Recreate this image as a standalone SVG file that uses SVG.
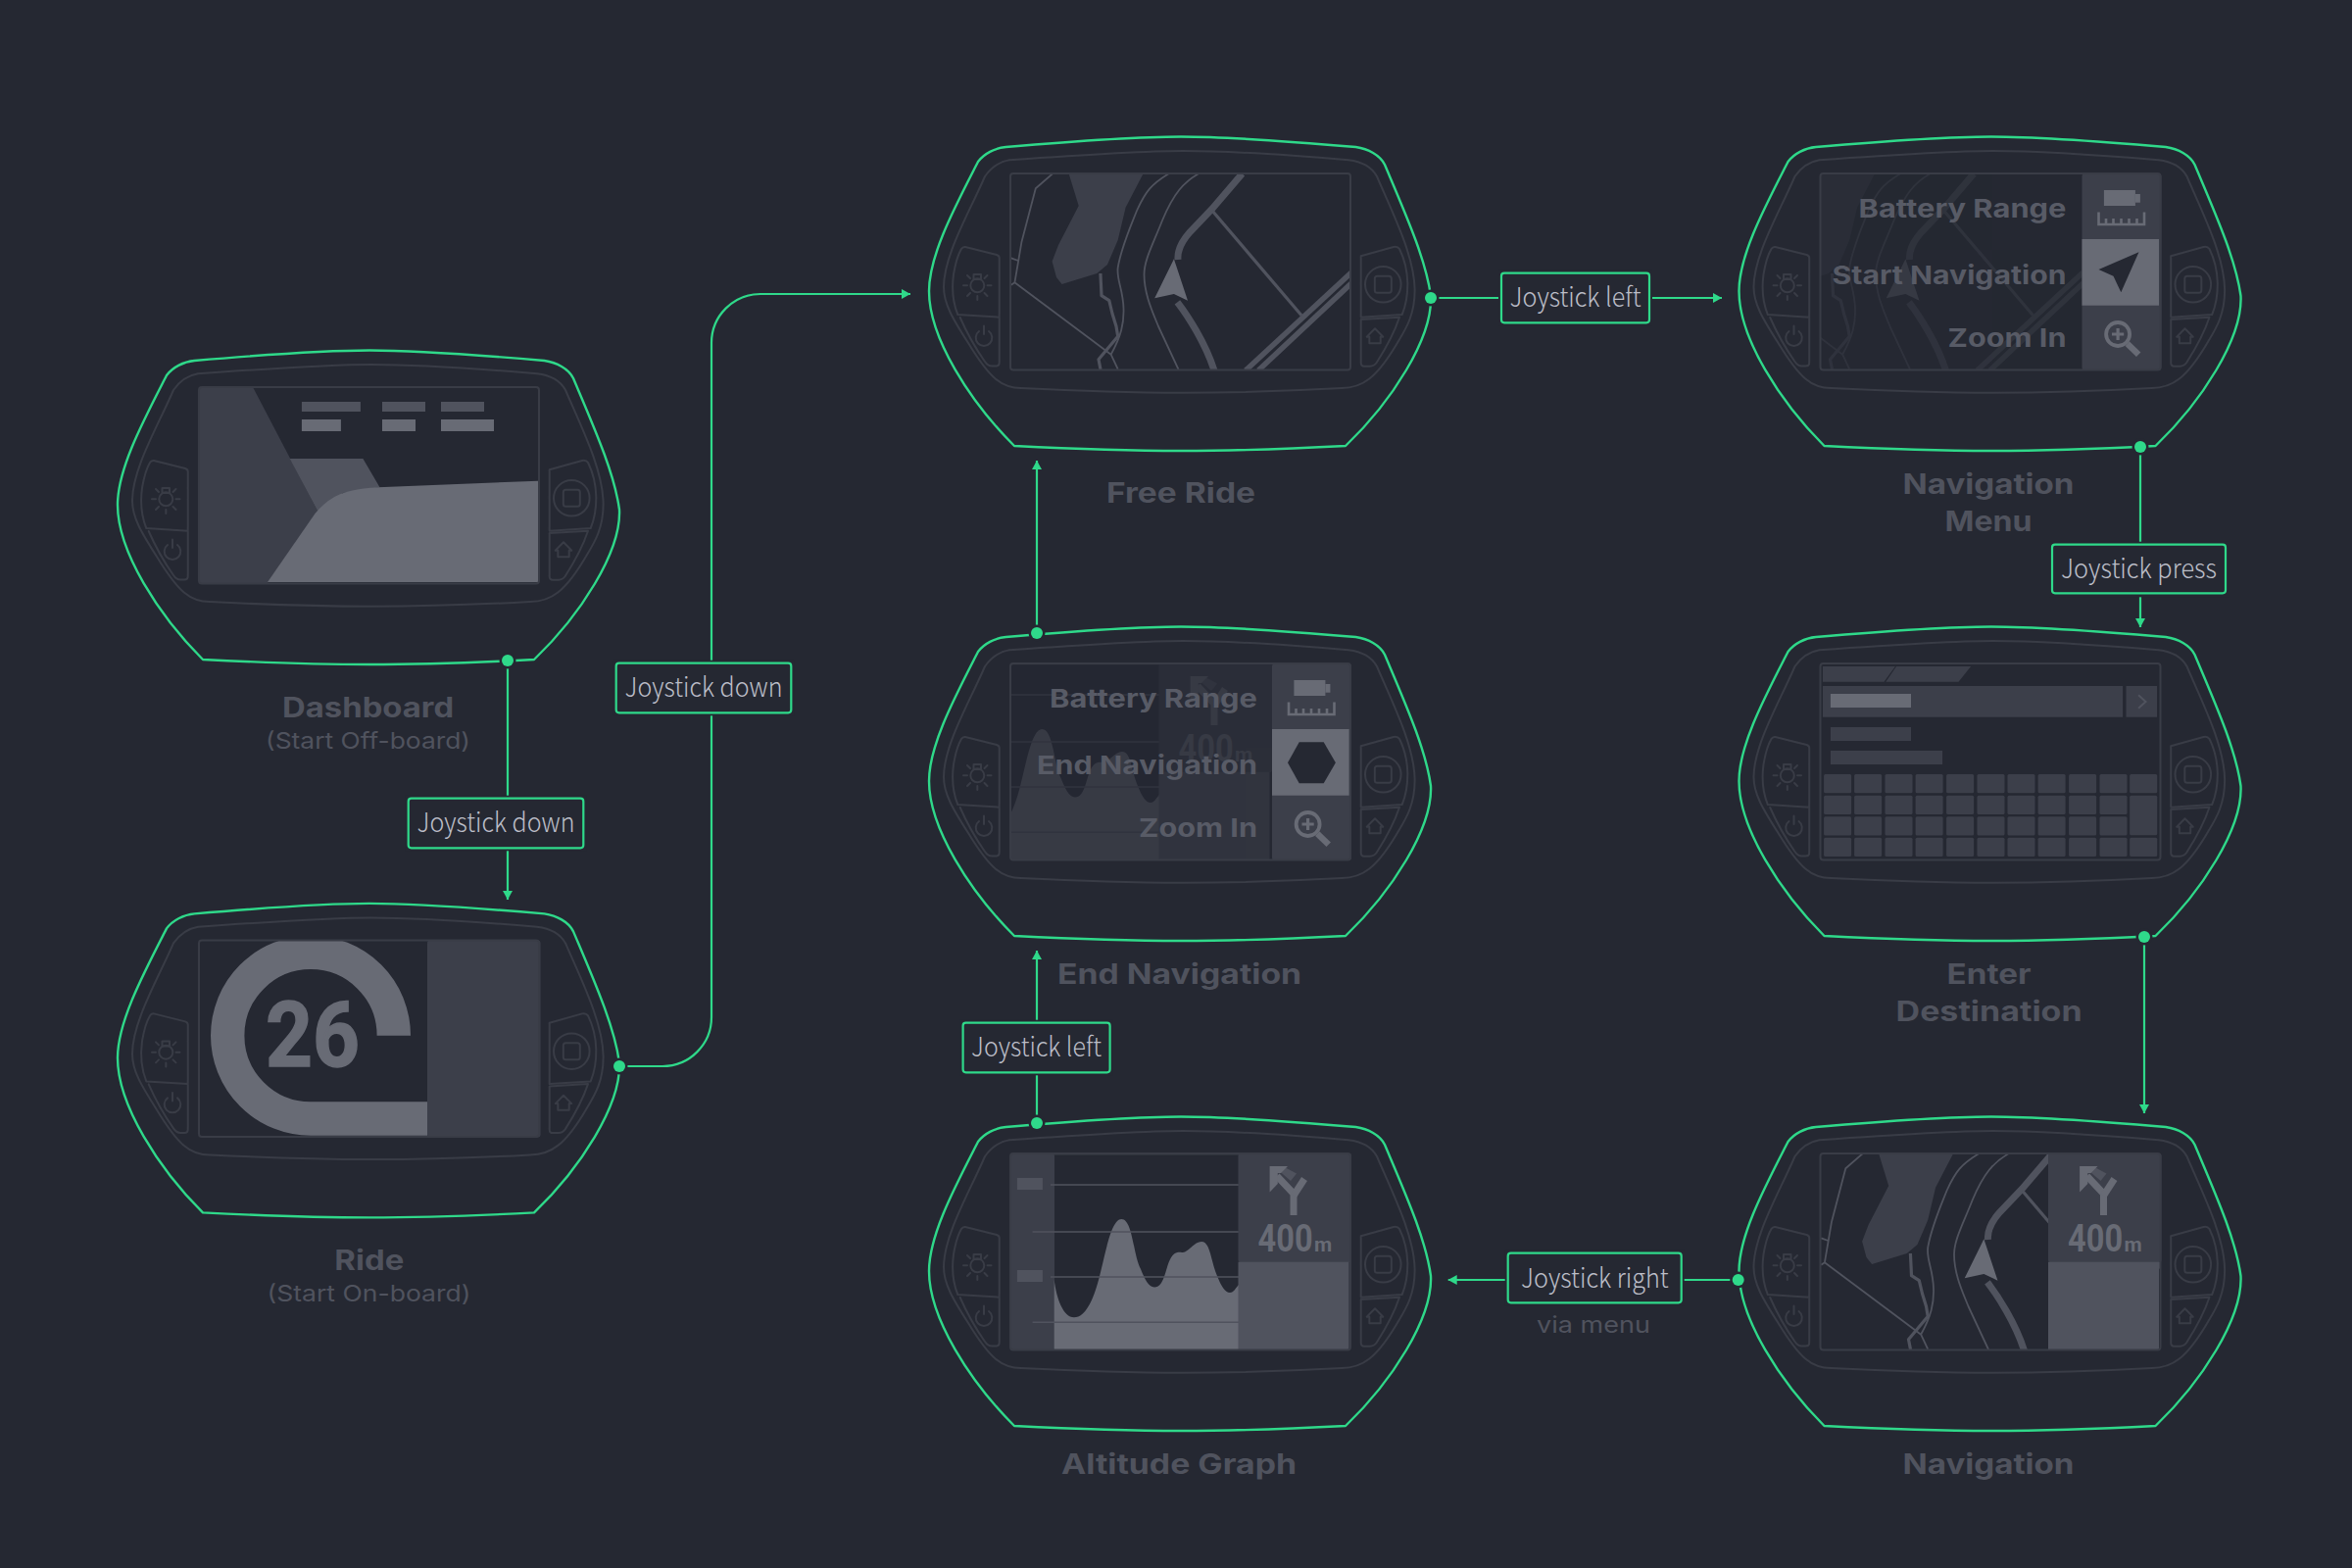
<svg xmlns="http://www.w3.org/2000/svg" xmlns:xlink="http://www.w3.org/1999/xlink" width="2400" height="1600" viewBox="0 0 2400 1600">
<style>
.bg{fill:#252832}
.dk{fill:#3c3f4a}
.md{fill:#50535e}
.lt{fill:#686b75}
.body{fill:none;stroke:#393c46;stroke-width:2;stroke-linejoin:round;stroke-linecap:round}
.edge{fill:none;stroke:#2fd98a;stroke-width:2.4;stroke-linejoin:round}
.thin{fill:none;stroke:#50535e;stroke-width:1.8;stroke-linejoin:round}
.mid{fill:none;stroke:#50535e;stroke-width:3.2;stroke-linejoin:round}
.road{fill:none;stroke:#50535e;stroke-width:7}
.road2{fill:none;stroke:#50535e;stroke-width:5.5}
.grid{fill:none;stroke:#50535e;stroke-width:1.6}
.conn{fill:none;stroke:#2fd98a;stroke-width:2.2}
.dot{fill:#2fd98a;stroke:none}
.halo{fill:#252832;stroke:none}
.box{fill:#252832;stroke:#2fd98a;stroke-width:2.2}
.boxhalo{fill:#252832;stroke:none}
.lbl{font-family:"Noto Sans CJK SC","Noto Sans",sans-serif;font-weight:300;font-size:27px;fill:#bcbec8;text-anchor:middle}
.ttl{font-family:Inter,"Noto Sans",sans-serif;font-weight:700;font-size:28px;fill:#50535e;text-anchor:middle}
.sub{font-family:Inter,"Noto Sans",sans-serif;font-weight:400;font-size:23px;fill:#50535e;text-anchor:middle}
.menu{font-family:Inter,"Noto Sans",sans-serif;font-weight:700;font-size:26px;fill:#585b66;text-anchor:end}
.dist{font-family:Roboto,"Liberation Sans",sans-serif;font-weight:700;font-size:38px;fill:#686b75}
.unit{font-family:Roboto,"Liberation Sans",sans-serif;font-weight:700;font-size:21px;fill:#686b75}
.speed{font-family:Roboto,"Liberation Sans",sans-serif;font-weight:700;font-size:92px;fill:#686b75;stroke:#686b75;stroke-width:1.5}
.icon{fill:none;stroke:#686b75;stroke-width:2.6}
</style>
<defs>
<marker id="arr" markerUnits="userSpaceOnUse" markerWidth="9" markerHeight="10" refX="9" refY="5" orient="auto"><path d="M0,0L9,5L0,10Z" fill="#2fd98a"/></marker>
<clipPath id="scr"><rect x="101.5" y="47.5" width="346.5" height="199.5"/></clipPath>
<g id="device">
<path class="edge" d="M96.5,20C155,15 225,9.5 275,9.5C325,9.5 395,15 453.5,20C466,22 478,28 483,38C505,90 525,135 530,172C532,215 490,280 443,325C385,328 325,330 275,330C225,330 165,328 105,325C60,280 18,215 18,167C18,130 45,80 68,35C74,27 85,21 96.5,20Z"/>
<path class="body" d="M100,33.3C160,29 230,24 277,24C325,24 395,29 446,33.3C460,35 470,41 475,50C490,85 513,130 513.6,165C514,190 505,205 497,218C475,256 460,266 439,266C385,269 325,270.7 277,270.7C230,270.7 170,269 112,266C92,266 80,256 58,220C42,195 33,180 33,163C33,130 60,85 75,50C82,40 90,35 100,33.3Z"/>
<path class="body" d="M47.3,191C42,178 41,165 43,150C45,138 48,129 51,124Q52.5,121.5 55,122L87,130Q89.7,131 89.7,133V193.7ZM49.7,194C58,213 68,229 75,239Q78,243.5 82,243.5H86Q89.7,243.5 89.7,240V194"/>
<path class="body" d="M458.7,131.3L492,122Q496,121 498,124C503,134 506,147 506.3,158.7C506.5,172 504,183 500.7,191L458.7,193.7ZM458.7,196L498,193.7C492,212 483,227 474.7,240Q472,243.7 468,243.7H462Q458.7,243.7 458.7,240Z"/>
<g class="body">
<circle cx="67.3" cy="161.3" r="7"/><rect x="63.5" y="150" width="7.5" height="5"/>
<path d="M53,161.3H57M77.5,161.3H81.5M67.3,172V176M57,151L60,154M77.5,151L74.5,154M57,172L60,169M77.5,172L74.5,169"/>
<path d="M69,208A8.3,8.3 0 1 0 79,208M74,202.5V211"/>
<circle cx="481.3" cy="160.3" r="18.3"/><rect x="472.8" y="151.8" width="17" height="17" rx="2.5"/>
<path d="M464.7,213.7L473,205.3L481.3,213.7H478.7V220.3H467.3V213.7Z"/>
</g>
<rect class="body" x="101" y="47" width="347" height="200.5" rx="3"/>
</g>
<g id="map-art">
<path class="dk" d="M160.7,47.5H236.4L218.6,81.7L210.7,115L200,140L189.3,149L153.6,160L148,153L143.6,136.7L150,120L170.7,80Z"/>
<path class="thin" d="M144,47.3L126.8,62.3L112.5,116.7L105.4,158.3L185.7,218.3L203.6,231.7L210.7,246.7M101.8,133.3L109,136M101.8,160.7L105.4,158.3"/>
<path class="mid" d="M192.9,149L194,171.7L201.8,176.7L205,190L209,203L210.7,213.3L191,236.7L193,247"/>
<path class="thin" d="M262.5,47.3C245,58 239,65 230,85C222,105 214,123 210.7,143C209,155 216,165 216.5,185C217,200 214,213 203.6,231.7"/>
<path class="thin" d="M292.9,47.3C278,56 267.9,66.7 256,95C247,118 237.5,135 237.5,150C237.5,170 246,188 252,203L272.5,247"/>
<path class="road" d="M337.5,47.3L307,83L284,107C277,115 271,124 272,135M271.4,178.3C282,192 300,220 309,248"/>
<path class="mid" d="M307,85L398,191.7"/>
<path class="road2" d="M449,148L341,248M449,159L354,248"/>
<path class="lt" d="M267.9,134.3L282,176.7L267.9,170L248.2,174.3Z"/>
</g>
<g id="map" clip-path="url(#scr)"><use href="#map-art" xlink:href="#map-art"/></g>
<g id="turn">
<path d="M390,110V88L373,70" fill="none" stroke="#686b75" stroke-width="7"/>
<path d="M390,90L401,73" fill="none" stroke="#686b75" stroke-width="7"/>
<path class="md" d="M379,60L393,67.5L387,75L372,62Z"/>
<path class="lt" d="M365.6,60H384L377,67H373.8V78L365.6,86.5Z"/>
</g>
<g id="navpanel">
<rect class="dk" x="333.5" y="47" width="115.5" height="111" rx="2"/>
<rect class="md" x="333.5" y="157.7" width="113" height="89.3"/>
<use href="#turn" xlink:href="#turn"/>
</g>
<g id="graph">
<rect class="dk" x="101" y="47" width="45" height="201" rx="2"/>
<rect class="md" x="107.9" y="72" width="26" height="12"/>
<rect class="md" x="107.9" y="166" width="26" height="12"/>
<path class="lt" d="M145.7,176C148,195 155,214.3 166,214.3C178,214.3 186,195 191,176C197,155 203,114 214.3,114C226,114 226,150 234,165C238,175 242,183.5 248,183.5C258,183.5 259,165 264,155C268,147.5 272,147.5 276,148C282,149 288,137 296,137C305,137 305,155 312,172C316,182 320,189 325,189C329,189 331,184 334,181V247H145.7Z"/>
<path class="grid" d="M142,79H334M123.6,127H334M142,173H334M123.6,219.3H334M146,47.5H334"/>
<use href="#navpanel" xlink:href="#navpanel"/>
</g>
<g id="menupanel">
<rect class="dk" x="368" y="47" width="81" height="201" rx="3"/>
<rect class="lt" x="368" y="114" width="78.6" height="67.7"/>
<rect class="lt" x="390.4" y="64" width="32" height="16"/><rect class="lt" x="422.4" y="68" width="5" height="8.7"/>
<path class="icon" d="M385,86.5V99H431.5V86.5M392.5,93V99M400,93V99M408,93V99M416,93V99M424,93V99"/>
<circle cx="404.6" cy="211" r="12" fill="none" stroke="#686b75" stroke-width="3.8"/>
<path d="M398.5,211H410.7M404.6,205V217" fill="none" stroke="#686b75" stroke-width="3.2"/>
<path d="M414.3,220.7L425.7,231.7" fill="none" stroke="#686b75" stroke-width="6.4"/>
</g>
<g id="keyrow">
<rect x="104.6" width="28" height="19.3" rx="1.5"/><rect x="135.6" width="28" height="19.3" rx="1.5"/><rect x="167" width="28" height="19.3" rx="1.5"/><rect x="198.1" width="28" height="19.3" rx="1.5"/><rect x="229.6" width="28" height="19.3" rx="1.5"/><rect x="261" width="28" height="19.3" rx="1.5"/><rect x="292" width="28" height="19.3" rx="1.5"/><rect x="323.1" width="28" height="19.3" rx="1.5"/><rect x="354.6" width="28" height="19.3" rx="1.5"/><rect x="386" width="28" height="19.3" rx="1.5"/>
</g>
</defs>
<rect width="2400" height="1600" class="bg"/>

<g id="node-dashboard">
<g transform="translate(102,348)">
<path class="dk" d="M101,47H156L222.3,173.7L171,247H101Z"/>
<path class="md" d="M193.7,120H268.4L285.5,149.3L248,155L222.3,173.7Z"/>
<path class="lt" d="M171,246L219.5,176C237,155 255,151 283.7,149.3L447,142.7V246Z"/>
<rect class="md" x="205.9" y="62" width="60" height="10"/><rect class="md" x="288" y="62" width="44" height="10"/><rect class="md" x="348" y="62" width="44" height="10"/>
<rect class="lt" x="205.9" y="80" width="40" height="12"/><rect class="lt" x="288" y="80" width="34" height="12"/><rect class="lt" x="348" y="80" width="54" height="12"/>
<use href="#device" xlink:href="#device"/>
</g>
<text class="ttl" x="375.6" y="731.7" textLength="175" lengthAdjust="spacingAndGlyphs">Dashboard</text>
<text class="sub" x="375.5" y="764" textLength="209" lengthAdjust="spacingAndGlyphs">(Start Off-board)</text>
</g>

<g id="node-ride">
<g transform="translate(102,912.4)">
<rect class="dk" x="334" y="47" width="115.5" height="201" rx="3"/>
<g clip-path="url(#scr)"><path d="M299.8,144.3A84.8,84.8 0 1 0 215,229.1H334" fill="none" stroke="#686b75" stroke-width="34.4"/></g>
<text class="speed" x="217" y="175.5" textLength="96" lengthAdjust="spacingAndGlyphs" text-anchor="middle">26</text>
<use href="#device" xlink:href="#device"/>
</g>
<text class="ttl" x="376.8" y="1295.7" textLength="71" lengthAdjust="spacingAndGlyphs">Ride</text>
<text class="sub" x="376.5" y="1328" textLength="208" lengthAdjust="spacingAndGlyphs">(Start On-board)</text>
</g>

<g id="node-free-ride">
<g transform="translate(930,130)">
<use href="#map" xlink:href="#map"/>
<use href="#device" xlink:href="#device"/>
</g>
<text class="ttl" x="1205" y="513" textLength="152" lengthAdjust="spacingAndGlyphs">Free Ride</text>
</g>

<g id="node-navigation-menu">
<g transform="translate(1756.5,130)">
<g clip-path="url(#scr)"><g opacity="0.25" transform="translate(-80,0)"><use href="#map-art" xlink:href="#map-art"/></g></g>
<use href="#menupanel" xlink:href="#menupanel"/>
<path class="bg" d="M426,127.3L407.8,168.3L400,151.7L385,145Z"/>
<use href="#device" xlink:href="#device"/>
<text class="menu" x="352" y="91.7" textLength="212" lengthAdjust="spacingAndGlyphs">Battery Range</text>
<text class="menu" x="352" y="160" textLength="239" lengthAdjust="spacingAndGlyphs">Start Navigation</text>
<text class="menu" x="352" y="224" textLength="121" lengthAdjust="spacingAndGlyphs">Zoom In</text>
</g>
<text class="ttl" x="2029" y="504" textLength="175" lengthAdjust="spacingAndGlyphs">Navigation</text>
<text class="ttl" x="2029" y="542" textLength="89" lengthAdjust="spacingAndGlyphs">Menu</text>
</g>

<g id="node-end-navigation">
<g transform="translate(930,630)">
<g clip-path="url(#scr)"><g opacity="0.28" transform="translate(-81,0)"><use href="#graph" xlink:href="#graph"/>
<text class="dist" x="353.6" y="146.7" textLength="56" lengthAdjust="spacingAndGlyphs">400</text><text class="unit" x="411" y="146.7">m</text></g></g>
<use href="#menupanel" xlink:href="#menupanel"/>
<path class="bg" d="M384,148.3L395.7,127.3H420.7L432.9,148.3L420.7,169.3H395.7Z"/>
<use href="#device" xlink:href="#device"/>
<text class="menu" x="353" y="91.7" textLength="212" lengthAdjust="spacingAndGlyphs">Battery Range</text>
<text class="menu" x="353" y="160" textLength="225" lengthAdjust="spacingAndGlyphs">End Navigation</text>
<text class="menu" x="353" y="224" textLength="121" lengthAdjust="spacingAndGlyphs">Zoom In</text>
</g>
<text class="ttl" x="1203.6" y="1004" textLength="249" lengthAdjust="spacingAndGlyphs">End Navigation</text>
</g>

<g id="node-enter-destination">
<g transform="translate(1756.5,630)">
<path class="dk" d="M103.5,50H177.4L166,65.7H103.5ZM178.5,50H254.6L242,65.7H167.8Z"/>
<rect class="dk" x="103.5" y="70" width="306.1" height="31.7"/>
<rect class="dk" x="413" y="70" width="31.6" height="31.7"/>
<path d="M425.6,79.3L433,86L425.6,92.7" fill="none" stroke="#50535e" stroke-width="2"/>
<rect class="lt" x="111.4" y="78" width="82.1" height="14"/>
<rect class="dk" x="111.4" y="112" width="82.1" height="14"/>
<rect class="dk" x="111.4" y="136" width="114.2" height="14"/>
<g class="dk">
<use href="#keyrow" xlink:href="#keyrow" y="160"/><use href="#keyrow" xlink:href="#keyrow" y="181.7"/><use href="#keyrow" xlink:href="#keyrow" y="203.3"/><use href="#keyrow" xlink:href="#keyrow" y="224.7"/>
<rect x="416.7" y="160" width="28" height="19.3" rx="1.5"/><rect x="416.7" y="181.7" width="28" height="40.6" rx="1.5"/><rect x="416.7" y="224.7" width="28" height="19.3" rx="1.5"/>
</g>
<use href="#device" xlink:href="#device"/>
</g>
<text class="ttl" x="2029.6" y="1004" textLength="86" lengthAdjust="spacingAndGlyphs">Enter</text>
<text class="ttl" x="2029.6" y="1042" textLength="190" lengthAdjust="spacingAndGlyphs">Destination</text>
</g>

<g id="node-altitude-graph">
<g transform="translate(930,1130)">
<use href="#graph" xlink:href="#graph"/>
<text class="dist" x="353.6" y="146.7" textLength="56" lengthAdjust="spacingAndGlyphs">400</text><text class="unit" x="411" y="146.7">m</text>
<use href="#device" xlink:href="#device"/>
</g>
<text class="ttl" x="1203" y="1504" textLength="240" lengthAdjust="spacingAndGlyphs">Altitude Graph</text>
</g>

<g id="node-navigation">
<g transform="translate(1756.5,1130)">
<use href="#map" xlink:href="#map"/>
<use href="#navpanel" xlink:href="#navpanel"/>
<text class="dist" x="353.6" y="146.7" textLength="56" lengthAdjust="spacingAndGlyphs">400</text><text class="unit" x="411" y="146.7">m</text>
<use href="#device" xlink:href="#device"/>
</g>
<text class="ttl" x="2029" y="1504" textLength="175" lengthAdjust="spacingAndGlyphs">Navigation</text>
</g>

<g id="connectors">
<path class="conn" marker-end="url(#arr)" d="M518,674V918"/>
<path class="conn" marker-end="url(#arr)" d="M632,1088H676A50,50 0 0 0 726,1038V350A50,50 0 0 1 776,300H929"/>
<path class="conn" marker-end="url(#arr)" d="M1460,304H1757"/>
<path class="conn" marker-end="url(#arr)" d="M2184,456V640"/>
<path class="conn" marker-end="url(#arr)" d="M2188,956V1136"/>
<path class="conn" marker-end="url(#arr)" d="M1773.7,1306H1477.7"/>
<path class="conn" marker-end="url(#arr)" d="M1058,1146V970"/>
<path class="conn" marker-end="url(#arr)" d="M1058,646V470"/>
<g>
<circle class="halo" cx="518" cy="674" r="8.5"/><circle class="dot" cx="518" cy="674" r="6"/>
<circle class="halo" cx="632" cy="1088" r="8.5"/><circle class="dot" cx="632" cy="1088" r="6"/>
<circle class="halo" cx="1460" cy="304" r="8.5"/><circle class="dot" cx="1460" cy="304" r="6"/>
<circle class="halo" cx="2184" cy="456" r="8.5"/><circle class="dot" cx="2184" cy="456" r="6"/>
<circle class="halo" cx="2188" cy="956" r="8.5"/><circle class="dot" cx="2188" cy="956" r="6"/>
<circle class="halo" cx="1773.7" cy="1306" r="8.5"/><circle class="dot" cx="1773.7" cy="1306" r="6"/>
<circle class="halo" cx="1058" cy="1146" r="8.5"/><circle class="dot" cx="1058" cy="1146" r="6"/>
<circle class="halo" cx="1058" cy="646" r="8.5"/><circle class="dot" cx="1058" cy="646" r="6"/>
</g>
<g id="edge-label-1"><rect class="boxhalo" x="413.7" y="811.7" width="184.6" height="56.6"/><rect class="box" x="416.7" y="814.7" width="178.6" height="50.6" rx="3"/><text class="lbl" x="506" y="849.3" textLength="161" lengthAdjust="spacingAndGlyphs">Joystick down</text></g>
<g id="edge-label-2"><rect class="boxhalo" x="625.7" y="673.7" width="184.6" height="56.6"/><rect class="box" x="628.7" y="676.7" width="178.6" height="50.6" rx="3"/><text class="lbl" x="718" y="711.3" textLength="161" lengthAdjust="spacingAndGlyphs">Joystick down</text></g>
<g id="edge-label-3"><rect class="boxhalo" x="1529" y="275.7" width="157" height="56.6"/><rect class="box" x="1532" y="278.7" width="151" height="50.6" rx="3"/><text class="lbl" x="1607.5" y="313.3" textLength="134" lengthAdjust="spacingAndGlyphs">Joystick left</text></g>
<g id="edge-label-4"><rect class="boxhalo" x="2091" y="552.7" width="183" height="56.6"/><rect class="box" x="2094" y="555.7" width="177" height="49.6" rx="3"/><text class="lbl" x="2182.5" y="590" textLength="159" lengthAdjust="spacingAndGlyphs">Joystick press</text></g>
<g id="edge-label-5"><rect class="boxhalo" x="979.6" y="1040.7" width="156" height="56.6"/><rect class="box" x="982.6" y="1043.7" width="150" height="50.6" rx="3"/><text class="lbl" x="1057.6" y="1078.3" textLength="133" lengthAdjust="spacingAndGlyphs">Joystick left</text></g>
<g id="edge-label-6"><rect class="boxhalo" x="1535.7" y="1275.7" width="183" height="56.6"/><rect class="box" x="1538.7" y="1278.7" width="177" height="50.6" rx="3"/><text class="lbl" x="1627.3" y="1314" textLength="150.7" lengthAdjust="spacingAndGlyphs">Joystick right</text></g>
<text class="sub" x="1626" y="1360" textLength="116" lengthAdjust="spacingAndGlyphs">via menu</text>
</g>
</svg>
